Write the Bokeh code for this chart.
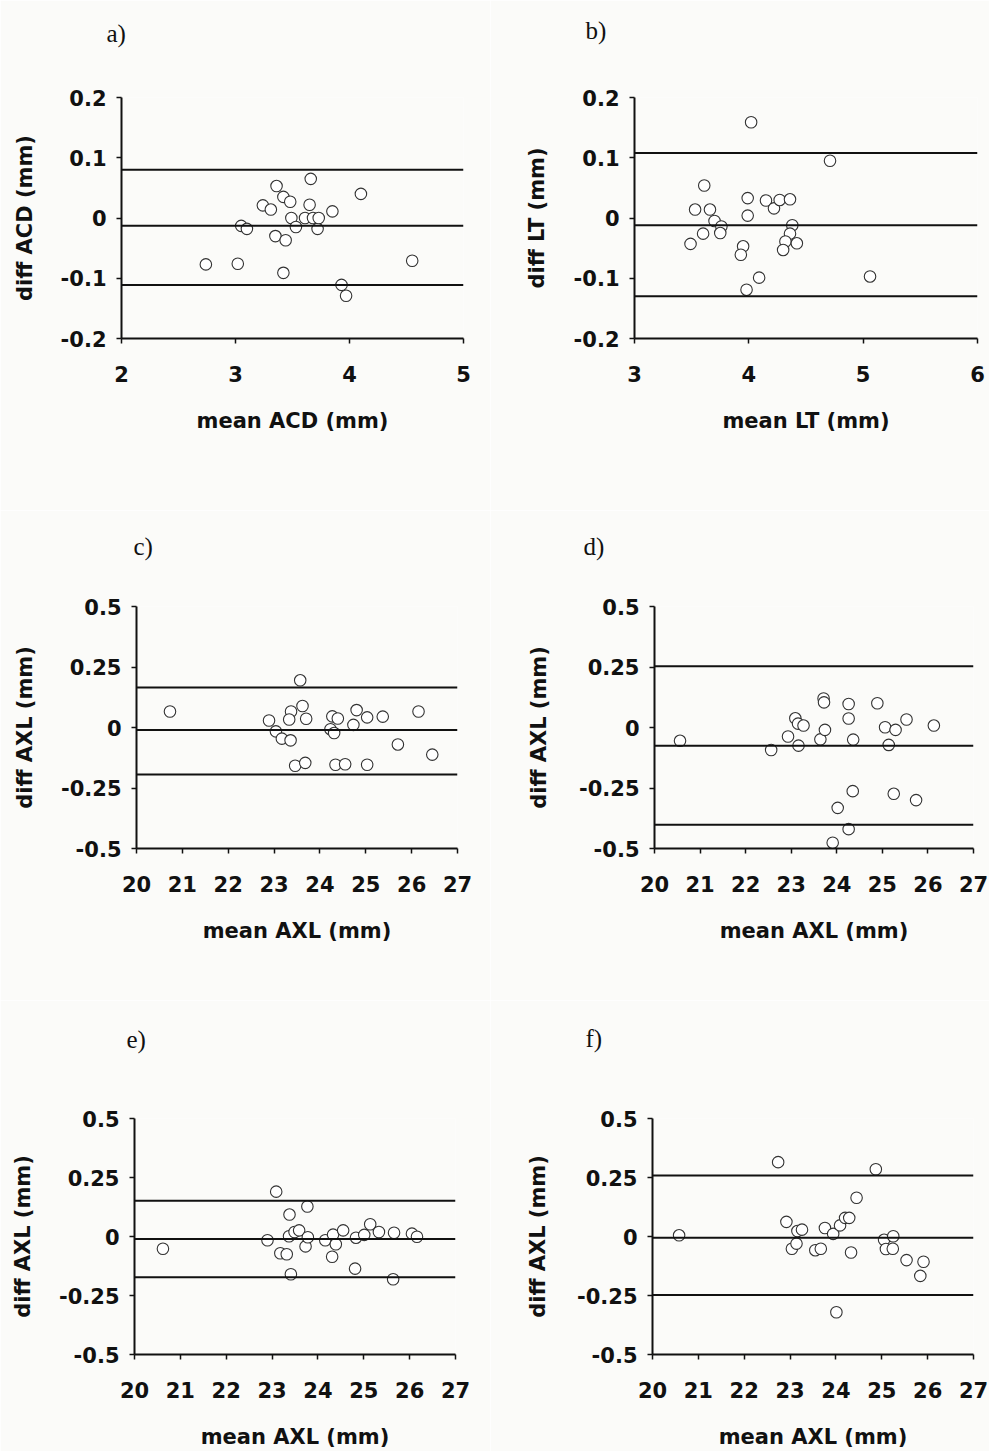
from bokeh.plotting import figure
from bokeh.layouts import column, row
from bokeh.models import Span, Title, FixedTicker, Range1d
from bokeh.embed import file_html
from bokeh.resources import INLINE

# ---- data: Bland-Altman style agreement plots ----
# a) anterior chamber depth
acd_mean = [2.74, 3.02, 3.05, 3.10, 3.24, 3.31, 3.36, 3.35, 3.42, 3.44, 3.42, 3.48, 3.49,
            3.53, 3.61, 3.66, 3.65, 3.68, 3.72, 3.73, 3.85, 3.93, 3.97, 4.10, 4.55]
acd_diff = [-0.077, -0.076, -0.013, -0.018, 0.021, 0.014, 0.053, -0.030, 0.035, -0.037, -0.091, 0.027, 0.0,
            -0.015, 0.0, 0.065, 0.022, 0.0, -0.018, 0.0, 0.011, -0.111, -0.129, 0.040, -0.071]
acd_limits = [0.080, -0.013, -0.111]

# b) lens thickness
lt_mean = [4.02, 4.71, 3.61, 3.53, 3.66, 3.49, 3.60, 3.70, 3.76, 3.75, 3.99, 3.99, 3.95,
           3.93, 3.98, 4.09, 4.15, 4.22, 4.27, 4.36, 4.38, 4.36, 4.32, 4.30, 4.42, 5.06]
lt_diff = [0.159, 0.095, 0.054, 0.014, 0.014, -0.043, -0.026, -0.005, -0.014, -0.025, 0.033, 0.004, -0.047,
           -0.061, -0.119, -0.099, 0.029, 0.016, 0.030, 0.031, -0.012, -0.026, -0.039, -0.053, -0.042, -0.097]
lt_limits = [0.108, -0.012, -0.130]

# c) axial length
axl_c_mean = [20.73, 22.89, 23.04, 23.17, 23.36, 23.37, 23.33, 23.46, 23.57, 23.62, 23.70, 23.68, 24.23,
              24.27, 24.31, 24.39, 24.34, 24.55, 24.73, 24.80, 25.03, 25.03, 25.37, 25.70, 26.15, 26.45]
axl_c_diff = [0.066, 0.029, -0.016, -0.046, -0.053, 0.066, 0.033, -0.158, 0.195, 0.089, 0.036, -0.146, -0.007,
              0.046, -0.023, 0.037, -0.154, -0.152, 0.011, 0.072, 0.042, -0.154, 0.045, -0.070, 0.066, -0.112]
axl_c_limits = [0.165, -0.010, -0.194]

# d) axial length
axl_d_mean = [20.56, 22.56, 22.93, 23.09, 23.15, 23.27, 23.16, 23.64, 23.74, 23.71, 23.72, 24.26, 24.26,
              24.36, 24.35, 24.02, 24.26, 23.91, 24.89, 25.06, 25.14, 25.29, 25.25, 25.53, 25.74, 26.13]
axl_d_diff = [-0.055, -0.093, -0.037, 0.038, 0.016, 0.008, -0.075, -0.049, -0.010, 0.120, 0.104, 0.097, 0.037,
              -0.050, -0.263, -0.332, -0.420, -0.476, 0.100, 0.001, -0.072, -0.010, -0.274, 0.033, -0.300, 0.008]
axl_d_limits = [0.253, -0.075, -0.402]

# e) axial length
axl_e_mean = [20.62, 22.90, 23.09, 23.18, 23.32, 23.38, 23.37, 23.41, 23.49, 23.59, 23.73, 23.78, 23.77,
              24.16, 24.33, 24.39, 24.31, 24.55, 24.83, 24.81, 25.01, 25.14, 25.33, 25.66, 25.64, 26.05, 26.16]
axl_e_diff = [-0.052, -0.016, 0.190, -0.071, -0.075, 0.093, 0.001, -0.160, 0.019, 0.026, -0.042, -0.003, 0.127,
              -0.016, 0.008, -0.033, -0.086, 0.026, -0.005, -0.136, 0.007, 0.052, 0.019, 0.016, -0.181, 0.012, -0.001]
axl_e_limits = [0.151, -0.011, -0.173]

# f) axial length
axl_f_mean = [20.58, 22.74, 22.92, 23.04, 23.14, 23.16, 23.26, 23.55, 23.67, 23.76, 23.94, 24.01, 24.09,
              24.20, 24.29, 24.33, 24.45, 24.87, 25.05, 25.09, 25.24, 25.25, 25.54, 25.84, 25.91]
axl_f_diff = [0.005, 0.315, 0.062, -0.052, -0.030, 0.023, 0.029, -0.058, -0.052, 0.036, 0.011, -0.321, 0.047,
              0.079, 0.079, -0.068, 0.164, 0.285, -0.014, -0.053, -0.052, 0.001, -0.100, -0.167, -0.107]
axl_f_limits = [0.258, -0.005, -0.248]

panel_letters = ["a)", "b)", "c)", "d)", "e)", "f)"]
x_titles = ["mean ACD (mm)", "mean LT (mm)", "mean AXL (mm)", "mean AXL (mm)", "mean AXL (mm)", "mean AXL (mm)"]
y_titles = ["diff ACD (mm)", "diff LT (mm)", "diff AXL (mm)", "diff AXL (mm)", "diff AXL (mm)", "diff AXL (mm)"]
acd_xticks = [2, 3, 4, 5]
lt_xticks = [3, 4, 5, 6]
axl_xticks = [20, 21, 22, 23, 24, 25, 26, 27]
small_yticks = [-0.2, -0.1, 0, 0.1, 0.2]
axl_yticks = [-0.5, -0.25, 0, 0.25, 0.5]

BG = "#fbfbf9"
SANS = "DejaVu Sans"
SERIF = "Liberation Serif"


def panel(xs, ys, limits, letter, xt, yt, xticks, yticks, geo):
    w, h, l, r, t, b, ylab_off, letter_dx, letter_gap = geo
    p = figure(width=w, height=h, output_backend="svg", toolbar_location=None,
               x_range=Range1d(xticks[0], xticks[-1]), y_range=Range1d(yticks[0], yticks[-1]),
               min_border_left=l, min_border_right=r, min_border_top=t, min_border_bottom=b)
    p.background_fill_color = BG
    p.border_fill_color = BG
    p.outline_line_color = None
    p.grid.visible = False

    for ax in (p.xaxis[0], p.yaxis[0]):
        ax.axis_line_width = 2
        ax.axis_line_color = "#111111"
        ax.major_tick_line_color = "#111111"
        ax.major_tick_line_width = 1.5
        ax.major_tick_out = 5
        ax.major_tick_in = 0
        ax.minor_tick_line_color = None
        ax.major_label_text_font = SANS
        ax.major_label_text_font_style = "bold"
        ax.major_label_text_font_size = "21px"
        ax.major_label_text_color = "#111111"
        ax.axis_label_text_font = SANS
        ax.axis_label_text_font_style = "bold"
        ax.axis_label_text_font_size = "21px"
        ax.axis_label_text_color = "#111111"

    p.xaxis.ticker = FixedTicker(ticks=xticks)
    p.yaxis.ticker = FixedTicker(ticks=yticks)
    p.yaxis.major_label_overrides = {v: ("0" if v == 0 else f"{v:g}") for v in yticks}
    p.xaxis.major_label_standoff = 22
    p.yaxis.major_label_standoff = 10
    p.xaxis.axis_label = xt
    p.yaxis.axis_label = yt
    p.xaxis.axis_label_standoff = 24
    p.yaxis.axis_label_standoff = ylab_off

    # limits of agreement and mean difference
    for v in limits:
        p.add_layout(Span(location=v, dimension="width", line_color="#111111", line_width=2))

    p.scatter(xs, ys, size=11.5, marker="circle", fill_color="white",
              line_color="#333333", line_width=1.1)

    # blank strip between the frame and the panel letter, then the letter itself
    p.add_layout(Title(text=" ", text_font_size="1px", standoff=letter_gap), "above")
    p.add_layout(Title(text=letter, text_font=SERIF, text_font_size="25px", text_font_style="normal",
                       text_color="#111111", align="left", offset=letter_dx, standoff=0), "above")
    return p


pa = panel(acd_mean, acd_diff, acd_limits, panel_letters[0], x_titles[0], y_titles[0],
           acd_xticks, small_yticks, (490, 510, 121, 27, 96, 172, 21, -15, 48))
pb = panel(lt_mean, lt_diff, lt_limits, panel_letters[1], x_titles[1], y_titles[1],
           lt_xticks, small_yticks, (499, 510, 144, 12, 97, 171, 22, -49, 51))
pc = panel(axl_c_mean, axl_c_diff, axl_c_limits, panel_letters[2], x_titles[2], y_titles[2],
           axl_xticks, axl_yticks, (490, 490, 136, 33, 94, 152, 21, -3, 44))
pd = panel(axl_d_mean, axl_d_diff, axl_d_limits, panel_letters[3], x_titles[3], y_titles[3],
           axl_xticks, axl_yticks, (499, 490, 164, 16, 96, 150, 25, -71, 44))
pe = panel(axl_e_mean, axl_e_diff, axl_e_limits, panel_letters[4], x_titles[4], y_titles[4],
           axl_xticks, axl_yticks, (490, 451, 134, 35, 113, 93, 21, -8, 63))
pf = panel(axl_f_mean, axl_f_diff, axl_f_limits, panel_letters[5], x_titles[5], y_titles[5],
           axl_xticks, axl_yticks, (499, 451, 162, 16, 118, 90, 24, -67, 64))

layout = column(row(pa, pb), row(pc, pd), row(pe, pf))
open("out.html", "w").write(file_html(layout, INLINE))
